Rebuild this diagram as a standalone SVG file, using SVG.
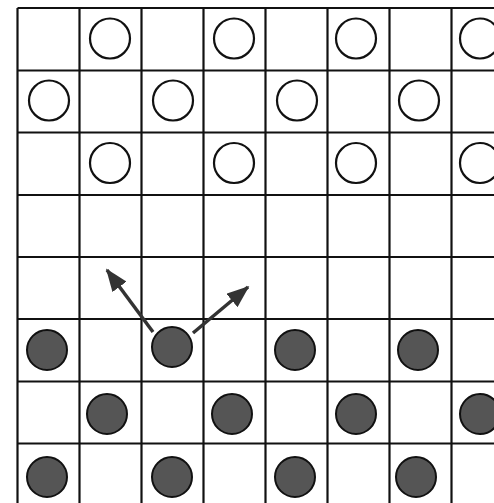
<svg xmlns="http://www.w3.org/2000/svg" width="494" height="503" viewBox="0 0 494 503">
<style>
.grid line{stroke:#111;stroke-width:2.2}
.w{fill:#fff;stroke:#111;stroke-width:2.2}
.b{fill:#555;stroke:#111;stroke-width:2}
.arr{stroke:#333;stroke-width:3.5;fill:none}
</style>
<defs>
<marker id="ah" viewBox="0 0 13 10" refX="12" refY="5" markerWidth="6.5" markerHeight="5" orient="auto" markerUnits="strokeWidth">
<path d="M0,0 L13,5 L0,10 z" fill="#333"/>
</marker>
</defs>
<rect width="494" height="503" fill="#fff"/>
<g id="board" class="grid">
<line x1="17.5" y1="8" x2="17.5" y2="503"/>
<line x1="79.5" y1="8" x2="79.5" y2="503"/>
<line x1="141.5" y1="8" x2="141.5" y2="503"/>
<line x1="203.5" y1="8" x2="203.5" y2="503"/>
<line x1="265.5" y1="8" x2="265.5" y2="503"/>
<line x1="327.5" y1="8" x2="327.5" y2="503"/>
<line x1="389.5" y1="8" x2="389.5" y2="503"/>
<line x1="451.5" y1="8" x2="451.5" y2="503"/>
<line x1="17.5" y1="8" x2="494" y2="8"/>
<line x1="17.5" y1="70.5" x2="494" y2="70.5"/>
<line x1="17.5" y1="132.5" x2="494" y2="132.5"/>
<line x1="17.5" y1="195" x2="494" y2="195"/>
<line x1="17.5" y1="257" x2="494" y2="257"/>
<line x1="17.5" y1="319" x2="494" y2="319"/>
<line x1="17.5" y1="381.5" x2="494" y2="381.5"/>
<line x1="17.5" y1="443.5" x2="494" y2="443.5"/>
</g>
<g id="white-pieces">
<circle class="w" cx="110" cy="38.5" r="20"/>
<circle class="w" cx="234" cy="38.5" r="20"/>
<circle class="w" cx="356" cy="38.5" r="20"/>
<circle class="w" cx="480" cy="38.5" r="20"/>
<circle class="w" cx="49" cy="100.5" r="20"/>
<circle class="w" cx="173" cy="100.5" r="20"/>
<circle class="w" cx="297" cy="100.5" r="20"/>
<circle class="w" cx="419" cy="100.5" r="20"/>
<circle class="w" cx="110" cy="163" r="20"/>
<circle class="w" cx="234" cy="163" r="20"/>
<circle class="w" cx="356" cy="163" r="20"/>
<circle class="w" cx="480" cy="163" r="20"/>
</g>
<g id="dark-pieces">
<circle class="b" cx="47" cy="350" r="20"/>
<circle class="b" cx="172" cy="347" r="20"/>
<circle class="b" cx="295" cy="350" r="20"/>
<circle class="b" cx="418" cy="350" r="20"/>
<circle class="b" cx="107" cy="414" r="20"/>
<circle class="b" cx="232" cy="414" r="20"/>
<circle class="b" cx="356" cy="414" r="20"/>
<circle class="b" cx="480" cy="414" r="20"/>
<circle class="b" cx="47" cy="477" r="20"/>
<circle class="b" cx="172" cy="477" r="20"/>
<circle class="b" cx="295" cy="477" r="20"/>
<circle class="b" cx="416" cy="477" r="20"/>
</g>
<g id="connectors">
<line class="arr" x1="153" y1="332" x2="107" y2="270" marker-end="url(#ah)"/>
<line class="arr" x1="193" y1="333" x2="248" y2="287" marker-end="url(#ah)"/>
</g>
</svg>
